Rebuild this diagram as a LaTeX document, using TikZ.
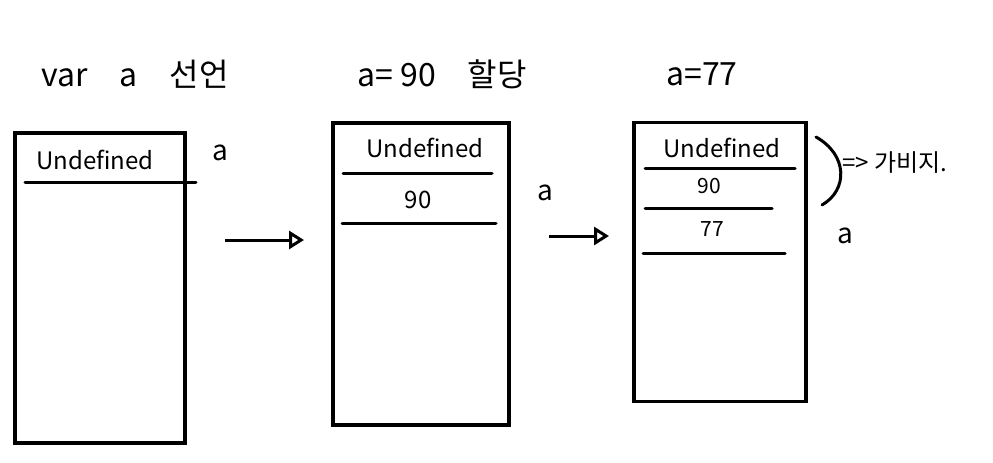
\documentclass[tikz,border=0pt]{standalone}
\usepackage{fontspec}
\newfontfamily\kofont{Noto Sans CJK KR}
\usepackage{tikz}
\usetikzlibrary{arrows.meta, positioning, calc}
\tikzstyle{membox} = [rectangle, draw, line width=3.2pt, inner sep=0pt]
\tikzstyle{cellline} = [line width=3pt, line cap=round]
\tikzstyle{txt} = [font=\kofont\fontsize{24}{28}\selectfont, inner sep=0pt]
\tikzstyle{smalltxt} = [font=\kofont\fontsize{21}{24}\selectfont, inner sep=0pt]
\tikzstyle{varname} = [font=\kofont\fontsize{28}{32}\selectfont, inner sep=0pt]
\tikzstyle{title} = [font=\kofont\fontsize{32}{36}\selectfont, inner sep=0pt]
\tikzstyle{arrow} = [line width=3pt, -{Triangle[open, length=15pt, width=18pt]}]

\begin{document}
\begin{tikzpicture}[x=1pt, y=-1pt]
    \useasboundingbox (0,0) rectangle (993,463);
    % Titles
    
\node[title] (decl) at (135,74) {var\quad a\quad 선언};
    
\node[title] (assign) at (442,74) {a= 90\quad 할당};
    
\node[title] (reassign) at (702,74) {a=77};
    
    % Memory boxes
    
\node[membox, minimum width=170pt, minimum height=310pt] (mem1) at (100,288) {};
    
\node[membox, minimum width=176pt, minimum height=302pt] (mem2) at (421,274) {};
    
\node[membox, minimum width=172pt, minimum height=279pt] (mem3) at (720,262) {};
    
    % Cells
    
\node[txt] (undef1) at (95,160) {Undefined};
    \draw[cellline] (25,182) -- (196,182);
    
\node[txt] (undef2) at (425,148) {Undefined};
    \draw[cellline] (343,173) -- (492,173);
\node[txt] (val2) at (418,200) {90};
    \draw[cellline] (342,223) -- (496,223);
    
\node[txt] (undef3) at (722,148) {Undefined};
    \draw[cellline] (645,168) -- (795,168);
\node[smalltxt] (val3) at (709,186) {90};
    \draw[cellline] (645,208) -- (772,208);
\node[smalltxt] (new3) at (712,229) {77};
    \draw[cellline] (643,253) -- (785,253);
    
    % Variable labels
    
\node[varname] (var1) at (220,153) {a};
    
\node[varname] (var2) at (545,193) {a};
    
\node[varname] (var3) at (845,236) {a};
    
    % Garbage
    \coordinate (brtop) at (816,137);
    \coordinate (brbot) at (822,205);
    \draw[cellline] (brtop) .. controls (848,155) and (848,190) .. (brbot);
    
\node[txt, anchor=west] (garbage) at (842,163) {=>\ 가비지.};
    
    % Arrows
    \coordinate (step1a) at (225,240);
    \coordinate (step1b) at (304,240);
    \coordinate (step2a) at (549,236);
    \coordinate (step2b) at (609,236);
    \draw[arrow] (step1a) -- (step1b);
    \draw[arrow] (step2a) -- (step2b);
\end{tikzpicture}
\end{document}
